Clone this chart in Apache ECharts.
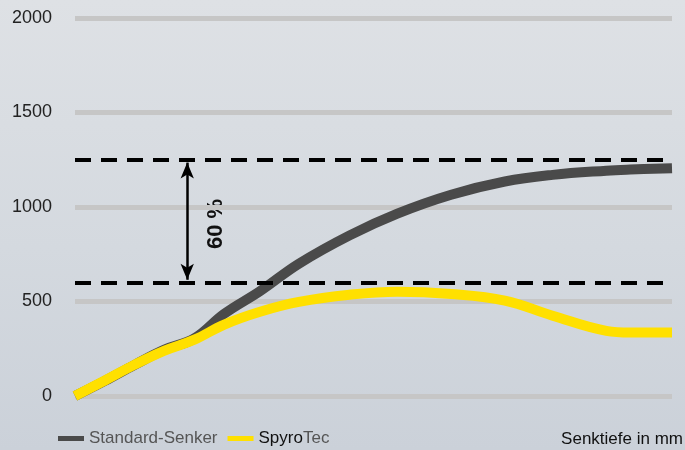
<!DOCTYPE html>
<html>
<head>
<meta charset="utf-8">
<script src="https://cdn.jsdelivr.net/npm/echarts@6/dist/echarts.min.js"></script>
<style>
html,body{margin:0;padding:0;}
#c{width:685px;height:450px;background:linear-gradient(180deg,#dee1e5 0%,#d4d9df 55%,#cbd1d9 100%);}
</style>
</head>
<body>
<div id="c"></div>
<script>
// Senktiefe (normalised units, axis hidden)
const depth = [0, 0.5, 1.0, 1.5, 2.0, 2.5, 3.1, 3.75, 4.6, 5.4, 6.3, 7.2, 8.0, 8.9, 9.3, 10];
// Standard-Senker
const standard = [0, 80, 165, 245, 305, 435, 555, 700, 850, 965, 1065, 1135, 1170, 1192, 1198, 1205];
// SpyroTec
const spyro = [0, 82, 166, 240, 298, 378, 446, 498, 536, 552, 540, 505, 425, 345, 336, 336];
const yTicks = [0, 500, 1000, 1500, 2000];
const refHigh = 1250;
const refLow = 600;
const arrowX = 1.88;
const pctLabel = '60 %';

const FONT = 'Liberation Sans, Arial, sans-serif';
const chart = echarts.init(document.getElementById('c'));
const toPairs = (ys) => depth.map((x, i) => [x, ys[i]]);
chart.setOption({
  backgroundColor: 'transparent',
  animation: false,
  grid: {left: 75, right: 13, top: 18, bottom: 54},
  xAxis: {type: 'value', min: 0, max: 10, show: false},
  yAxis: {
    type: 'value', min: yTicks[0], max: yTicks[yTicks.length - 1], interval: 500,
    axisLine: {show: false}, axisTick: {show: false},
    axisLabel: {color: '#222', fontSize: 18, fontFamily: FONT, margin: 23, formatter: (v) => String(v)},
    splitLine: {lineStyle: {color: '#c6c6c6', width: 5}}
  },
  legend: {
    bottom: -2, left: 53, itemWidth: 26, itemHeight: 5, itemGap: 10,
    icon: 'rect',
    textStyle: {
      fontSize: 17, color: '#555', fontFamily: FONT,
      rich: {b: {fontSize: 17, color: '#111', fontFamily: FONT},
             g: {fontSize: 17, color: '#555', fontFamily: FONT}}
    },
    formatter: (n) => n === 'SpyroTec' ? '{b|Spyro}{g|Tec}' : n,
    data: ['Standard-Senker', 'SpyroTec']
  },
  series: [
    {
      name: 'Standard-Senker', type: 'line', smooth: 0.4, symbol: 'none',
      data: toPairs(standard), color: '#4a4a4a',
      lineStyle: {width: 10, color: '#4a4a4a', cap: 'butt'}, z: 3,
      markLine: {
        silent: true, symbol: 'none', label: {show: false},
        lineStyle: {type: [16, 10], color: '#000', width: 4},
        data: [{yAxis: refHigh}, {yAxis: refLow}]
      }
    },
    {
      name: 'SpyroTec', type: 'line', smooth: 0.4, symbol: 'none',
      data: toPairs(spyro), color: '#ffe000',
      lineStyle: {width: 10, color: '#ffe000', cap: 'butt'}, z: 4,
      markLine: {
        silent: true, symbol: ['arrow', 'arrow'], symbolSize: [10, 16], label: {show: false},
        lineStyle: {type: 'solid', color: '#000', width: 2.5},
        data: [[{coord: [arrowX, refHigh - 15]}, {coord: [arrowX, refLow + 15]}]]
      }
    }
  ],
  graphic: [
    {type: 'text', x: 205, y: 224, rotation: Math.PI / 2,
     style: {text: pctLabel, fontSize: 22, fontWeight: 'bold', fill: '#111',
             fontFamily: FONT, align: 'center', verticalAlign: 'top'}},
    {type: 'text', right: 2, bottom: 2,
     style: {text: 'Senktiefe in mm', fontSize: 17, fill: '#111', fontFamily: FONT}}
  ]
});
</script>
</body>
</html>
